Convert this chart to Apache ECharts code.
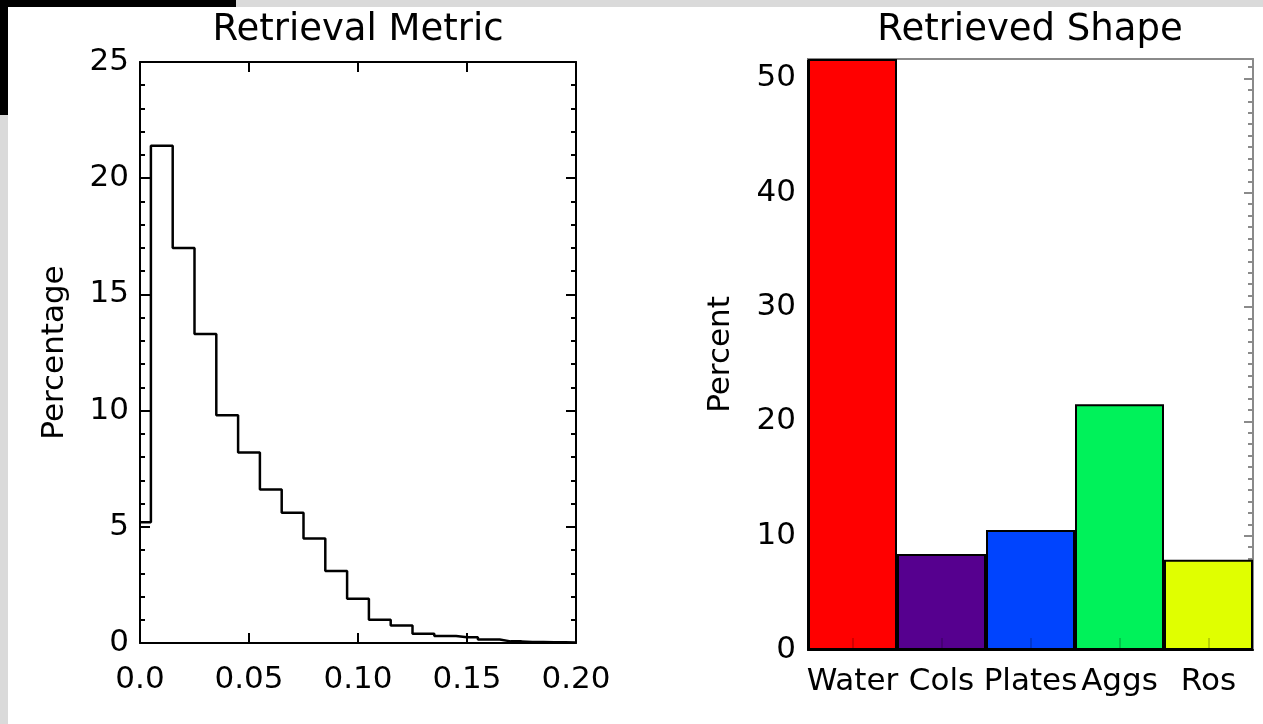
<!DOCTYPE html>
<html>
<head>
<meta charset="utf-8">
<title>Retrieval Metric / Retrieved Shape</title>
<script src="https://cdn.jsdelivr.net/npm/echarts@6/dist/echarts.min.js"></script>
<style>
  html, body { margin: 0; padding: 0; background: #ffffff; }
  #chart { width: 1263px; height: 724px; }
</style>
</head>
<body>
<div id="chart"></div>
<script>
// Histogram of the retrieval metric (bin centres and percentage per bin)
const metricBins = [0.00, 0.01, 0.02, 0.03, 0.04, 0.05, 0.06, 0.07, 0.08, 0.09, 0.10,
                    0.11, 0.12, 0.13, 0.14, 0.15, 0.16, 0.17, 0.18, 0.19, 0.20];
const metricPct  = [5.2, 21.4, 17.0, 13.3, 9.8, 8.2, 6.6, 5.6, 4.5, 3.1, 1.9,
                    1.0, 0.75, 0.4, 0.3, 0.25, 0.15, 0.07, 0.04, 0.03, 0.02];
const metricTickLabels = ['0.0', '0.05', '0.10', '0.15', '0.20'];

// Share of each retrieved particle shape, in percent
const shapeNames   = ['Water', 'Cols', 'Plates', 'Aggs', 'Ros'];
const shapePercent = [51.7, 8.4, 10.5, 21.5, 7.9];
const shapeColors  = ['#ff0000', '#56008f', '#0044fe', '#00f25a', '#e0ff00'];

const FONT = 'DejaVu Sans';
const INK = '#000000';
const FRAME_GREY = '#8a8a8a';

const chart = echarts.init(document.getElementById('chart'), null, { renderer: 'canvas' });

const labelStyle = { color: INK, fontFamily: FONT, fontSize: 31 };

// axis line helper: frame lines stay on their own side of the grid
const frameLine = (color) => ({ show: true, onZero: false, lineStyle: { color: color, width: 2 } });

const option = {
  backgroundColor: '#ffffff',
  animation: false,
  textStyle: { fontFamily: FONT, color: INK },
  graphic: [
    // page edge strips
    { type: 'rect', shape: { x: 0, y: 0, width: 1263, height: 7 }, style: { fill: '#dadada' }, silent: true },
    { type: 'rect', shape: { x: 0, y: 0, width: 8, height: 724 }, style: { fill: '#dadada' }, silent: true },
    { type: 'rect', shape: { x: 0, y: 0, width: 236, height: 7 }, style: { fill: '#000000' }, silent: true },
    { type: 'rect', shape: { x: 0, y: 0, width: 8, height: 115 }, style: { fill: '#000000' }, silent: true }
  ],
  title: [
    {
      text: 'Retrieval Metric', left: 358, top: 12, textAlign: 'center', padding: 0,
      textStyle: { fontFamily: FONT, fontSize: 37, fontWeight: 'normal', color: INK }
    },
    {
      text: 'Retrieved Shape', left: 1030, top: 12, textAlign: 'center', padding: 0,
      textStyle: { fontFamily: FONT, fontSize: 37, fontWeight: 'normal', color: INK }
    }
  ],
  grid: [
    { left: 140, top: 62, width: 436, height: 581, containLabel: false },
    { left: 808, top: 59, width: 445, height: 591, containLabel: false }
  ],
  xAxis: [
    {
      gridIndex: 0, type: 'value', position: 'bottom',
      min: 0, max: 0.2, interval: 0.05,
      axisLine: frameLine(INK),
      axisTick: { show: true, inside: true, length: 10, lineStyle: { color: INK, width: 2 } },
      splitLine: { show: false },
      axisLabel: Object.assign({ margin: 21, formatter: (v, i) => metricTickLabels[i] }, labelStyle)
    },
    {
      gridIndex: 0, type: 'value', position: 'top',
      min: 0, max: 0.2, interval: 0.05,
      axisLine: frameLine(INK),
      axisTick: { show: true, inside: true, length: 10, lineStyle: { color: INK, width: 2 } },
      splitLine: { show: false },
      axisLabel: { show: false }
    },
    {
      gridIndex: 1, type: 'category', position: 'bottom', data: shapeNames,
      axisLine: frameLine(INK),
      axisTick: { show: true, inside: true, alignWithLabel: true, length: 12,
                  lineStyle: { color: 'rgba(0,0,0,0.18)', width: 2 } },
      axisLabel: Object.assign({ margin: 16, interval: 0 }, labelStyle),
      z: 3
    },
    {
      gridIndex: 1, type: 'category', position: 'top', data: shapeNames,
      axisLine: frameLine(FRAME_GREY),
      axisTick: { show: false },
      axisLabel: { show: false }
    }
  ],
  yAxis: [
    {
      gridIndex: 0, type: 'value', position: 'left',
      min: 0, max: 25, interval: 5,
      name: 'Percentage', nameLocation: 'middle', nameGap: 70, nameRotate: 90,
      nameTextStyle: { fontFamily: FONT, fontSize: 31, color: INK },
      axisLine: frameLine(INK),
      axisTick: { show: true, inside: true, length: 10, lineStyle: { color: INK, width: 2 } },
      minorTick: { show: true, splitNumber: 5, length: 5, lineStyle: { color: INK, width: 2 } },
      splitLine: { show: false },
      axisLabel: Object.assign({ margin: 11 }, labelStyle)
    },
    {
      gridIndex: 0, type: 'value', position: 'right',
      min: 0, max: 25, interval: 5,
      axisLine: frameLine(INK),
      axisTick: { show: true, inside: true, length: 10, lineStyle: { color: INK, width: 2 } },
      minorTick: { show: true, splitNumber: 5, length: 5, lineStyle: { color: INK, width: 2 } },
      splitLine: { show: false },
      axisLabel: { show: false }
    },
    {
      gridIndex: 1, type: 'value', position: 'left',
      min: 0, max: shapePercent[0], interval: 10,
      name: 'Percent', nameLocation: 'middle', nameGap: 72, nameRotate: 90,
      nameTextStyle: { fontFamily: FONT, fontSize: 31, color: INK },
      axisLine: frameLine(INK),
      axisTick: { show: true, inside: true, length: 9, lineStyle: { color: INK, width: 2 } },
      splitLine: { show: false },
      axisLabel: Object.assign({ margin: 12, showMaxLabel: false }, labelStyle)
    },
    {
      gridIndex: 1, type: 'value', position: 'right',
      min: 0, max: shapePercent[0], interval: 10,
      axisLine: frameLine(FRAME_GREY),
      axisTick: { show: true, inside: true, length: 9, lineStyle: { color: FRAME_GREY, width: 2 } },
      minorTick: { show: true, splitNumber: 10, length: 5, lineStyle: { color: FRAME_GREY, width: 2 } },
      splitLine: { show: false },
      axisLabel: { show: false }
    }
  ],
  series: [
    {
      name: 'Retrieval Metric',
      type: 'line',
      xAxisIndex: 0, yAxisIndex: 0,
      step: 'middle',
      symbol: 'none',
      lineStyle: { color: INK, width: 2.5 },
      data: metricBins.map((x, i) => [x, metricPct[i]]),
      z: 4
    },
    {
      name: 'Retrieved Shape',
      type: 'bar',
      xAxisIndex: 2, yAxisIndex: 2,
      barCategoryGap: '0%',
      data: shapePercent.map((v, i) => ({
        value: v,
        itemStyle: { color: shapeColors[i], borderColor: INK, borderWidth: 2 }
      })),
      z: 2
    }
  ]
};

chart.setOption(option);
</script>
</body>
</html>
